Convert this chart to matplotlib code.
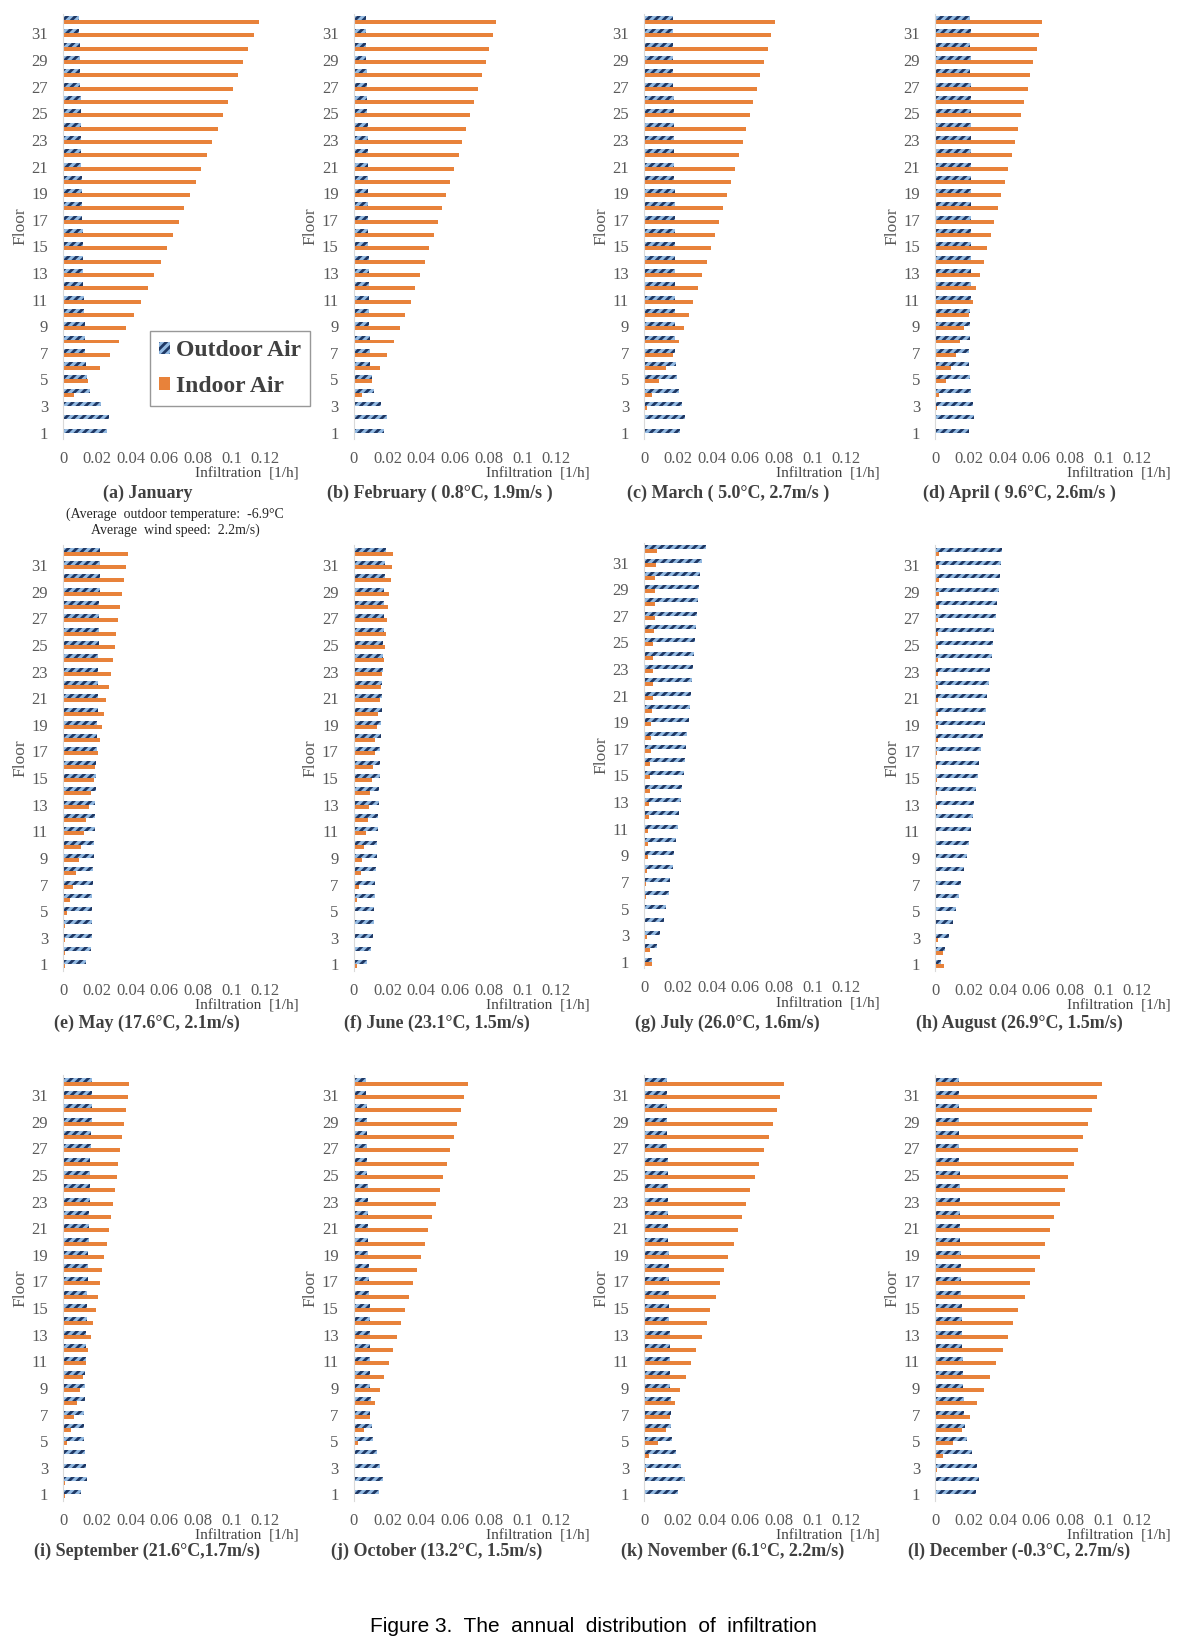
import numpy as np
import matplotlib
matplotlib.use('Agg')
import matplotlib.pyplot as plt

plt.rcParams['font.family'] = ['Liberation Serif', 'DejaVu Serif']
plt.rcParams['hatch.linewidth'] = 2.0

# Data: infiltration [1/h] per floor (floor 1 .. 32)
floors = np.arange(1, 33)
floor_ticks = np.arange(1, 32, 2)
x_ticks = [0, 0.02, 0.04, 0.06, 0.08, 0.1, 0.12]
x_tick_labels = ['0', '0.02', '0.04', '0.06', '0.08', '0.1', '0.12']
series_names = ['Outdoor Air', 'Indoor Air']

jan_outdoor = [.0261, .0269, .0222, .0158, .0143, .0135, .0129, .0129, .0127, .0123, .0121, .0119, .0117, .0117, .0115, .0115,
               .0113, .0111, .0111, .0109, .0107, .0107, .0105, .0103, .0103, .0103, .0099, .0099, .0099, .0097, .0095, .0093]
jan_indoor = [.0002, .0002, .0006, .0063, .0149, .0218, .0275, .0329, .0372, .0420, .0461, .0503, .0541, .0580, .0616, .0651,
              .0687, .0719, .0752, .0788, .0818, .0853, .0883, .0919, .0949, .0978, .1008, .1038, .1069, .1099, .1131, .1164]

feb_outdoor = [.0180, .0194, .0158, .0117, .0107, .0095, .0095, .0093, .0091, .0091, .0089, .0089, .0087, .0087, .0085, .0085,
               .0085, .0083, .0083, .0083, .0081, .0081, .0081, .0081, .0077, .0077, .0077, .0075, .0073, .0073, .0073, .0071]
feb_indoor = [.0000, .0000, .0003, .0046, .0105, .0156, .0198, .0236, .0271, .0305, .0337, .0360, .0392, .0420, .0444, .0473,
              .0497, .0521, .0549, .0572, .0594, .0622, .0644, .0665, .0689, .0711, .0735, .0758, .0782, .0804, .0824, .0846]

mar_outdoor = [.0214, .0242, .0226, .0204, .0192, .0188, .0184, .0184, .0182, .0182, .0182, .0182, .0182, .0182, .0182, .0182,
               .0182, .0182, .0180, .0178, .0176, .0176, .0176, .0176, .0174, .0174, .0172, .0172, .0172, .0170, .0170, .0168]
mar_indoor = [.0002, .0002, .0016, .0044, .0087, .0131, .0170, .0204, .0234, .0265, .0289, .0319, .0343, .0372, .0396, .0420,
              .0444, .0469, .0491, .0515, .0539, .0560, .0584, .0606, .0626, .0648, .0669, .0689, .0713, .0733, .0754, .0774]

apr_outdoor = [.0202, .0228, .0222, .0212, .0206, .0200, .0202, .0206, .0206, .0204, .0210, .0210, .0210, .0210, .0210, .0210,
               .0210, .0212, .0210, .0212, .0212, .0212, .0210, .0212, .0212, .0212, .0210, .0208, .0210, .0206, .0210, .0208]
apr_indoor = [.0002, .0002, .0010, .0022, .0061, .0091, .0121, .0149, .0170, .0200, .0222, .0244, .0265, .0287, .0307, .0329,
              .0349, .0372, .0392, .0412, .0430, .0453, .0471, .0489, .0509, .0529, .0549, .0562, .0582, .0602, .0616, .0636]

may_outdoor = [.0133, .0164, .0168, .0170, .0168, .0170, .0176, .0176, .0180, .0182, .0186, .0190, .0190, .0192, .0194, .0196,
               .0198, .0198, .0200, .0204, .0204, .0206, .0208, .0208, .0210, .0210, .0212, .0212, .0216, .0216, .0216, .0220]
may_indoor = [.0010, .0010, .0010, .0010, .0022, .0042, .0059, .0075, .0091, .0105, .0121, .0137, .0152, .0164, .0180, .0190,
              .0204, .0218, .0232, .0242, .0253, .0269, .0281, .0293, .0305, .0315, .0327, .0339, .0349, .0360, .0372, .0382]

jun_outdoor = [.0077, .0103, .0115, .0117, .0117, .0123, .0127, .0129, .0135, .0139, .0141, .0141, .0147, .0149, .0152, .0152,
               .0156, .0158, .0158, .0164, .0166, .0168, .0170, .0172, .0174, .0176, .0178, .0180, .0178, .0182, .0182, .0190]
jun_indoor = [.0016, .0008, .0002, .0002, .0004, .0016, .0028, .0040, .0050, .0059, .0071, .0081, .0087, .0095, .0105, .0111,
              .0123, .0127, .0135, .0145, .0152, .0158, .0168, .0176, .0182, .0190, .0198, .0202, .0210, .0218, .0224, .0230]

jul_outdoor = [.0048, .0075, .0095, .0115, .0129, .0145, .0154, .0168, .0178, .0186, .0198, .0204, .0216, .0224, .0234, .0240,
               .0246, .0255, .0263, .0269, .0277, .0281, .0287, .0297, .0299, .0307, .0315, .0319, .0327, .0331, .0341, .0364]
jul_indoor = [.0044, .0032, .0014, .0002, .0004, .0008, .0012, .0014, .0020, .0020, .0022, .0026, .0030, .0032, .0034, .0036,
              .0038, .0042, .0042, .0044, .0050, .0050, .0051, .0051, .0053, .0055, .0061, .0061, .0065, .0065, .0069, .0073]

aug_outdoor = [.0036, .0059, .0079, .0103, .0125, .0139, .0154, .0170, .0186, .0198, .0210, .0222, .0232, .0244, .0251, .0261,
               .0273, .0281, .0293, .0299, .0307, .0317, .0327, .0335, .0341, .0350, .0358, .0364, .0376, .0382, .0392, .0394]
aug_indoor = [.0053, .0044, .0018, .0001, .0001, .0001, .0002, .0002, .0002, .0004, .0006, .0006, .0008, .0008, .0010, .0010,
              .0012, .0014, .0014, .0014, .0014, .0016, .0018, .0018, .0018, .0018, .0018, .0020, .0020, .0020, .0022, .0020]

sep_outdoor = [.0105, .0139, .0133, .0127, .0123, .0123, .0121, .0127, .0127, .0129, .0133, .0135, .0137, .0141, .0141, .0143,
               .0145, .0147, .0149, .0150, .0152, .0154, .0156, .0156, .0158, .0158, .0162, .0162, .0168, .0168, .0168, .0168]
sep_indoor = [.0008, .0008, .0006, .0006, .0020, .0044, .0063, .0083, .0101, .0115, .0135, .0149, .0164, .0178, .0192, .0206,
              .0220, .0232, .0244, .0257, .0269, .0281, .0293, .0305, .0317, .0327, .0339, .0349, .0360, .0372, .0382, .0392]

oct_outdoor = [.0147, .0170, .0156, .0139, .0113, .0105, .0097, .0099, .0095, .0095, .0093, .0093, .0093, .0093, .0093, .0089,
               .0087, .0087, .0085, .0085, .0083, .0083, .0081, .0081, .0079, .0075, .0075, .0075, .0075, .0075, .0073, .0073]
oct_indoor = [.0002, .0002, .0002, .0002, .0022, .0061, .0095, .0127, .0152, .0178, .0206, .0230, .0253, .0277, .0305, .0327,
              .0349, .0372, .0396, .0420, .0442, .0465, .0487, .0509, .0529, .0550, .0570, .0592, .0614, .0634, .0651, .0675]

nov_outdoor = [.0200, .0240, .0220, .0190, .0165, .0160, .0158, .0156, .0155, .0154, .0152, .0150, .0150, .0149, .0148, .0147,
               .0146, .0145, .0144, .0143, .0142, .0141, .0140, .0140, .0139, .0138, .0137, .0137, .0136, .0136, .0135, .0134]
nov_indoor = [.0003, .0003, .0010, .0030, .0080, .0130, .0155, .0180, .0210, .0245, .0275, .0310, .0340, .0370, .0390, .0425,
              .0450, .0475, .0500, .0530, .0556, .0580, .0606, .0630, .0656, .0680, .0713, .0738, .0763, .0788, .0806, .0830]

dec_outdoor = [.0240, .0262, .0245, .0220, .0190, .0175, .0170, .0168, .0166, .0164, .0162, .0160, .0158, .0157, .0156, .0155,
               .0154, .0152, .0150, .0149, .0148, .0147, .0146, .0145, .0144, .0143, .0142, .0141, .0140, .0140, .0139, .0138]
dec_indoor = [.0003, .0003, .0010, .0044, .0106, .0160, .0206, .0250, .0290, .0325, .0360, .0400, .0430, .0460, .0490, .0530,
              .0560, .0590, .0620, .0650, .0680, .0706, .0740, .0770, .0790, .0825, .0850, .0880, .0906, .0930, .0960, .0988]

titles = ['(a) January', '(b) February ( 0.8°C, 1.9m/s )', '(c) March ( 5.0°C, 2.7m/s )', '(d) April ( 9.6°C, 2.6m/s )',
          '(e) May (17.6°C, 2.1m/s)', '(f) June (23.1°C, 1.5m/s)', '(g) July (26.0°C, 1.6m/s)', '(h) August (26.9°C, 1.5m/s)',
          '(i) September (21.6°C,1.7m/s)', '(j) October (13.2°C, 1.5m/s)', '(k) November (6.1°C, 2.2m/s)',
          '(l) December (-0.3°C, 2.7m/s)']
outdoor_all = [jan_outdoor, feb_outdoor, mar_outdoor, apr_outdoor, may_outdoor, jun_outdoor,
               jul_outdoor, aug_outdoor, sep_outdoor, oct_outdoor, nov_outdoor, dec_outdoor]
indoor_all = [jan_indoor, feb_indoor, mar_indoor, apr_indoor, may_indoor, jun_indoor,
              jul_indoor, aug_indoor, sep_indoor, oct_indoor, nov_indoor, dec_indoor]

# Layout (pixels)
W, H = 1189, 1643
col_left = [63.3, 354.0, 644.3, 935.3]
row_bottom = [439.3, 971.0, 1501.0]
title_y = [493.4, 1023.5, 1551.5]
title_x = [148, 440, 728.6, 1019, 146.7, 437, 727, 1019, 147, 437, 733, 1019]
ax_w, ax_h = 235.7, 425.8

c_out = '#94BBE3'
c_hatch = '#1F3864'
c_in = '#E8823A'
c_text = '#595959'

fig = plt.figure(figsize=(W / 100, H / 100), dpi=100)

handles = None
for i in range(12):
    r, c = divmod(i, 4)
    bottom = row_bottom[r]
    if i == 6:
        bottom -= 2.6
    ax = fig.add_axes([col_left[c] / W, 1 - bottom / H, ax_w / W, ax_h / H])
    b_out = ax.barh(floors + 0.15, outdoor_all[i], height=0.3, color=c_out,
                    edgecolor=c_hatch, hatch='////', linewidth=0)
    b_in = ax.barh(floors - 0.15, indoor_all[i], height=0.3, color=c_in, linewidth=0)
    if handles is None:
        handles = [b_out, b_in]

    ax.set_xlim(0, 0.14)
    ax.set_ylim(0.5, 32.5)
    ax.set_xticks(x_ticks, x_tick_labels)
    ax.set_yticks(floor_ticks)
    ax.tick_params(length=0, labelsize=12, labelcolor=c_text)
    ax.tick_params(axis='x', pad=8.5)
    ax.tick_params(axis='y', pad=11)
    for s in ['top', 'right', 'bottom']:
        ax.spines[s].set_visible(False)
    ax.spines['left'].set_color('#D9D9D9')
    ax.spines['left'].set_linewidth(0.8)

    ax.text(-43.3 / ax_w, 0.5, 'Floor', transform=ax.transAxes, rotation=90,
            ha='center', va='center', fontsize=12.5, color=c_text)
    ax.text(1.0, -35 / ax_h, 'Infiltration  [1/h]', transform=ax.transAxes,
            ha='right', va='center', fontsize=11, color='#404040')
    fig.text(title_x[i] / W, 1 - title_y[r] / H, titles[i], ha='center', va='center',
             fontsize=13, fontweight='bold', color='#404040')

fig.text(175 / W, 1 - 514 / H, '(Average  outdoor temperature:  -6.9°C', ha='center', va='center',
         fontsize=10, color='#262626')
fig.text(175 / W, 1 - 530 / H, 'Average  wind speed:  2.2m/s)', ha='center', va='center',
         fontsize=10, color='#262626')

leg = fig.legend(handles, series_names, loc='upper left', bbox_to_anchor=(149.8 / W, 1 - 331 / H),
                 prop={'weight': 'bold', 'size': 17}, labelcolor='#404040', frameon=True,
                 fancybox=False, edgecolor='#7F7F7F', borderaxespad=0, borderpad=0.4,
                 handlelength=0.45, handleheight=0.45, handletextpad=0.25, labelspacing=0.6)
leg.get_frame().set_linewidth(1.0)

fig.text(593 / W, 1 - 1626 / H, 'Figure 3.  The  annual  distribution  of  infiltration', ha='center',
         va='center', fontsize=15, family='Liberation Sans', color='black')

fig.savefig('out.png', dpi=100)
